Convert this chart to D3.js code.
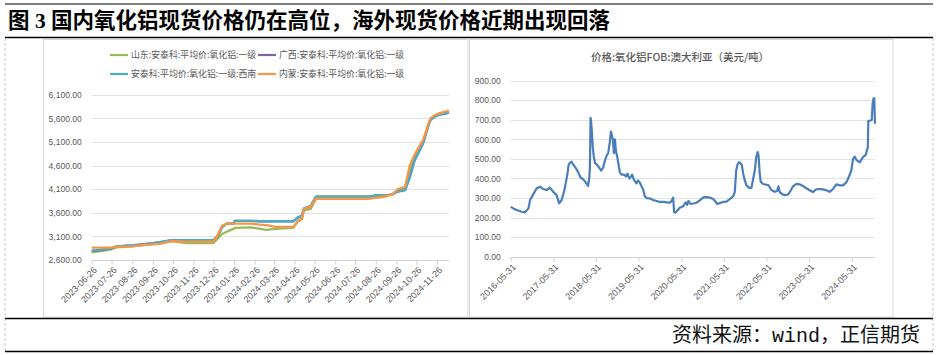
<!DOCTYPE html>
<html><head><meta charset="utf-8">
<script src="https://cdn.jsdelivr.net/npm/d3@7"></script>
<style>body{margin:0;background:#fff;} svg{display:block;}</style>
</head><body>
<svg id="c" width="939" height="355"></svg>
<script>
const titleText = "图 3 国内氧化铝现货价格仍在高位，海外现货价格近期出现回落";
const sourceText = "资料来源：wind，正信期货";

// ---- left chart: domestic spot (元/吨) ----
const leftNames = ["山东:安泰科:平均价:氧化铝:一级","广西:安泰科:平均价:氧化铝:一级","安泰科:平均价:氧化铝:一级:西南","内蒙:安泰科:平均价:氧化铝:一级"];
const leftColors = ["#9BBB59","#8064A2","#4BACC6","#F79646"];
const leftDates = ["2023-06-26","2023-07-10","2023-07-24","2023-08-03","2023-08-25","2023-09-15","2023-10-06","2023-10-24","2023-11-15","2023-12-26",
  "2024-01-02","2024-01-08","2024-01-15","2024-01-25","2024-01-27","2024-02-20","2024-03-05","2024-03-15","2024-03-28","2024-04-24",
  "2024-05-01","2024-05-07","2024-05-10","2024-05-20","2024-05-28","2024-06-30","2024-08-15","2024-08-27","2024-09-10","2024-09-20",
  "2024-09-28","2024-10-09","2024-10-16","2024-10-23","2024-10-30","2024-11-05","2024-11-10","2024-11-13","2024-11-16","2024-11-23",
  "2024-11-30","2024-12-08","2024-12-14"];
const shandong = [2760,2790,2820,2870,2890,2920,2950,3000,2960,2960,
  3060,3150,3200,3260,3280,3290,3260,3240,3260,3280,
  3420,3470,3650,3680,3900,3900,3900,3920,3950,3990,
  4070,4120,4500,4800,4950,5100,5330,5460,5580,5650,
  5700,5720,5740];
const guangxi = [2790,2810,2840,2890,2910,2940,2975,3020,3020,3020,
  3120,3300,3370,3370,3430,3430,3420,3420,3420,3420,
  3500,3540,3690,3740,3940,3940,3940,3970,3970,3990,
  4050,4080,4350,4700,4900,5070,5300,5450,5560,5640,
  5680,5700,5720];
const southwest = [2800,2820,2840,2890,2910,2935,2980,3020,3020,3020,
  3120,3300,3370,3370,3430,3430,3420,3420,3420,3420,
  3500,3540,3690,3740,3940,3940,3940,3970,3970,3990,
  4050,4080,4350,4700,4900,5070,5300,5450,5560,5640,
  5680,5700,5720];
const neimeng = [2860,2860,2860,2880,2890,2920,2940,3000,2990,2990,
  3150,3330,3370,3370,3370,3370,3350,3340,3300,3300,
  3420,3480,3680,3730,3900,3900,3900,3920,3950,3990,
  4100,4150,4600,4820,5000,5140,5350,5480,5600,5670,
  5710,5740,5760];
const leftYTicks = [2600,3100,3600,4100,4600,5100,5600,6100];
const leftXTicks = ["2023-06-26","2023-07-26","2023-08-26","2023-09-26","2023-10-26","2023-11-26","2023-12-26","2024-01-26","2024-02-26",
  "2024-03-26","2024-04-26","2024-05-26","2024-06-26","2024-07-26","2024-08-26","2024-09-26","2024-10-26","2024-11-26"];

// ---- right chart: FOB Australia (USD/t) ----
const rightTitle = "价格:氧化铝FOB:澳大利亚（美元/吨）";
const fobDates = ["2016-05-31","2016-06-23","2016-07-21","2016-09-03","2016-10-01","2016-10-30","2016-11-13","2016-12-11","2017-01-09","2017-02-07",
  "2017-03-06","2017-04-03","2017-05-02","2017-05-30","2017-06-28","2017-07-20","2017-08-10","2017-08-30","2017-09-16","2017-09-28",
  "2017-10-09","2017-10-20","2017-11-04","2017-11-18","2017-12-11","2017-12-31","2018-01-20","2018-02-12","2018-03-05","2018-03-25",
  "2018-04-03","2018-04-09","2018-04-15","2018-04-20","2018-04-26","2018-05-04","2018-05-13","2018-05-24","2018-06-10","2018-06-28",
  "2018-07-15","2018-08-01","2018-08-15","2018-08-30","2018-09-13","2018-09-28","2018-10-06","2018-10-14","2018-10-23","2018-11-01",
  "2018-11-10","2018-11-18","2018-11-30","2018-12-11","2018-12-22","2019-01-06","2019-01-26","2019-02-12","2019-02-26","2019-03-05",
  "2019-03-16","2019-04-06","2019-04-20","2019-05-12","2019-05-27","2019-06-10","2019-06-25","2019-07-09","2019-07-23","2019-08-07",
  "2019-09-05","2019-10-03","2019-11-01","2019-11-30","2019-12-28","2020-01-26","2020-02-24","2020-03-08","2020-03-22","2020-03-31",
  "2020-04-09","2020-04-26","2020-05-18","2020-06-16","2020-07-09","2020-07-20","2020-07-31","2020-08-18","2020-09-10","2020-10-08",
  "2020-11-06","2020-12-05","2021-01-02","2021-01-31","2021-03-01","2021-03-22","2021-04-02","2021-04-25","2021-05-24","2021-06-21",
  "2021-07-20","2021-08-18","2021-09-01","2021-09-13","2021-09-24","2021-10-05","2021-10-19","2021-10-31","2021-11-12","2021-11-26",
  "2021-12-10","2022-01-02","2022-01-22","2022-02-06","2022-02-20","2022-03-04","2022-03-16","2022-03-24","2022-04-02","2022-04-11",
  "2022-05-01","2022-05-29","2022-06-18","2022-07-11","2022-08-09","2022-08-29","2022-09-10","2022-09-21","2022-10-11","2022-11-03",
  "2022-12-01","2022-12-21","2023-01-13","2023-02-11","2023-03-10","2023-04-08","2023-05-06","2023-06-04","2023-07-02","2023-07-31",
  "2023-08-29","2023-09-26","2023-10-25","2023-11-22","2023-12-21","2024-01-19","2024-02-16","2024-03-16","2024-04-14","2024-05-12",
  "2024-05-26","2024-06-10","2024-06-24","2024-07-08","2024-08-06","2024-09-04","2024-09-27","2024-10-08","2024-10-14","2024-10-19",
  "2024-11-05","2024-11-17","2024-11-25","2024-12-03","2024-12-09","2024-12-15"];
const fobValues = [255,247,239,230,227,247,290,320,350,358,
  346,341,353,332,315,273,290,330,380,420,
  470,480,486,470,452,430,405,395,380,362,
  400,450,710,690,640,560,510,478,470,455,
  440,455,490,515,530,590,640,625,600,530,
  600,540,510,470,430,420,420,410,425,410,
  400,420,395,375,390,380,360,345,310,300,
  298,290,285,280,280,278,276,285,302,228,
  225,235,250,258,278,265,285,270,272,276,
  288,303,305,302,295,280,270,274,280,282,
  295,308,330,440,470,482,480,470,426,390,
  365,352,352,400,443,510,535,515,430,384,
  372,368,365,341,332,336,360,330,320,315,
  318,335,360,372,370,362,350,340,330,345,
  346,344,340,332,345,370,365,365,380,418,
  440,500,512,495,482,510,520,548,555,695,
  696,700,785,810,810,680];
const rightYTicks = [0,100,200,300,400,500,600,700,800,900];
const rightXTicks = ["2016-05-31","2017-05-31","2018-05-31","2019-05-31","2020-05-31","2021-05-31","2022-05-31","2023-05-31","2024-05-31"];

const parse = d3.timeParse("%Y-%m-%d");
const svg = d3.select("#c");
const axisFont = "'Liberation Sans', Arial, sans-serif";
const cjk = "'Noto Sans CJK SC', sans-serif";
const grey = "#595959";

// frame
svg.append("line").attr("x1",5).attr("x2",933).attr("y1",4).attr("y2",4).attr("stroke","#000").attr("stroke-width",1.2);
svg.append("text").attr("x",8).attr("y",28).attr("font-family","'Liberation Serif', "+cjk).attr("font-weight",700)
  .attr("font-size",21.5).attr("fill","#000").text(titleText);
svg.append("line").attr("x1",5).attr("x2",933).attr("y1",37.5).attr("y2",37.5).attr("stroke","#000").attr("stroke-width",1.5);
[5,933].forEach(x=>svg.append("line").attr("x1",x).attr("x2",x).attr("y1",38).attr("y2",352)
  .attr("stroke","#c8c8c8").attr("stroke-dasharray","3,2").attr("stroke-width",1));
svg.append("rect").attr("x",43.5).attr("y",39.5).attr("width",424.5).attr("height",277.5).attr("fill","#fff").attr("stroke","#d9d9d9");
svg.append("rect").attr("x",469.5).attr("y",39.5).attr("width",423.5).attr("height",277.5).attr("fill","#fff").attr("stroke","#d9d9d9");
svg.append("line").attr("x1",5).attr("x2",933).attr("y1",318.5).attr("y2",318.5).attr("stroke","#000").attr("stroke-width",1.5);
svg.append("line").attr("x1",5).attr("x2",933).attr("y1",351.5).attr("y2",351.5).attr("stroke","#000").attr("stroke-width",1.5);
svg.append("text").attr("x",920).attr("y",342).attr("text-anchor","end").attr("font-family","'Liberation Mono', "+cjk)
  .attr("font-size",20).attr("fill","#111").text(sourceText);

function drawChart(opt){
  const g = svg.append("g");
  const x = d3.scaleTime().domain(opt.xDomain.map(parse)).range([opt.x0, opt.x1]);
  const y = d3.scaleLinear().domain(opt.yDomain).range([opt.y0, opt.y1]);
  // grid
  g.append("g").selectAll("line").data(opt.yTicks.slice(1)).join("line")
    .attr("x1",opt.x0).attr("x2",opt.x1).attr("y1",d=>Math.round(y(d))+0.5).attr("y2",d=>Math.round(y(d))+0.5)
    .attr("stroke","#e3e3e3").attr("stroke-width",1);
  // y labels
  const ya = d3.axisLeft(y).tickValues(opt.yTicks).tickFormat(d3.format(",.2f")).tickSize(0).tickPadding(opt.yPad);
  const yg = g.append("g").attr("transform",`translate(${opt.x0},0)`).call(ya);
  yg.select(".domain").remove();
  yg.selectAll("text").attr("fill",grey).attr("font-family",axisFont).attr("font-size",8.5);
  // x axis
  const xa = d3.axisBottom(x).tickValues(opt.xTicks.map(parse)).tickFormat(d3.timeFormat("%Y-%m-%d")).tickSize(4).tickSizeOuter(0);
  const xg = g.append("g").attr("transform",`translate(0,${Math.round(opt.y0)+0.5})`).call(xa);
  xg.select(".domain").attr("stroke","#d0d0d0").attr("d",`M${opt.x0},0H${opt.x1}`);
  xg.selectAll(".tick line").attr("stroke","#d0d0d0");
  xg.selectAll("text").attr("fill",grey).attr("font-family",axisFont).attr("font-size",9)
    .attr("text-anchor","end").attr("dy","0.35em").attr("y",0)
    .attr("transform","translate(3,8) rotate(-45)");
  // lines
  opt.series.forEach(s=>{
    const pts = opt.dates.map((d,i)=>[parse(d), s.values[i]]);
    g.append("path").datum(pts).attr("fill","none").attr("stroke",s.color).attr("stroke-width",s.width)
      .attr("stroke-linejoin","round").attr("d",d3.line().x(p=>x(p[0])).y(p=>y(p[1])));
  });
}

drawChart({
  x0:91.7, x1:449, y0:260, y1:94.7,
  xDomain:["2023-06-26","2024-12-14"], yDomain:[2600,6100],
  yTicks:leftYTicks, xTicks:leftXTicks, yPad:10,
  dates:leftDates,
  series:[
    {values:shandong,color:leftColors[0],width:2.3},
    {values:guangxi,color:leftColors[1],width:2.3},
    {values:southwest,color:leftColors[2],width:2.3},
    {values:neimeng,color:leftColors[3],width:2.3}
  ]
});

// left legend
const legPos = [[110,55],[258,55],[110,74],[258,74]];
leftNames.forEach((n,i)=>{
  const [lx,ly] = legPos[i];
  svg.append("line").attr("x1",lx).attr("x2",lx+18).attr("y1",ly).attr("y2",ly).attr("stroke",leftColors[i]).attr("stroke-width",2.2);
  svg.append("text").attr("x",lx+21).attr("y",ly).attr("dy","0.35em").attr("font-family",cjk).attr("font-size",8.9)
    .attr("fill",grey).text(n);
});

drawChart({
  x0:510.7, x1:875, y0:256.7, y1:80.7,
  xDomain:["2016-05-31","2024-12-15"], yDomain:[0,900],
  yTicks:rightYTicks, xTicks:rightXTicks, yPad:10,
  dates:fobDates,
  series:[{values:fobValues,color:"#4A7EBB",width:2.2}]
});
svg.append("text").attr("x",680).attr("y",57).attr("dy","0.35em").attr("text-anchor","middle").attr("font-family",cjk)
  .attr("font-weight",500).attr("font-size",10.5).attr("fill",grey).text(rightTitle);
</script>
</body></html>
